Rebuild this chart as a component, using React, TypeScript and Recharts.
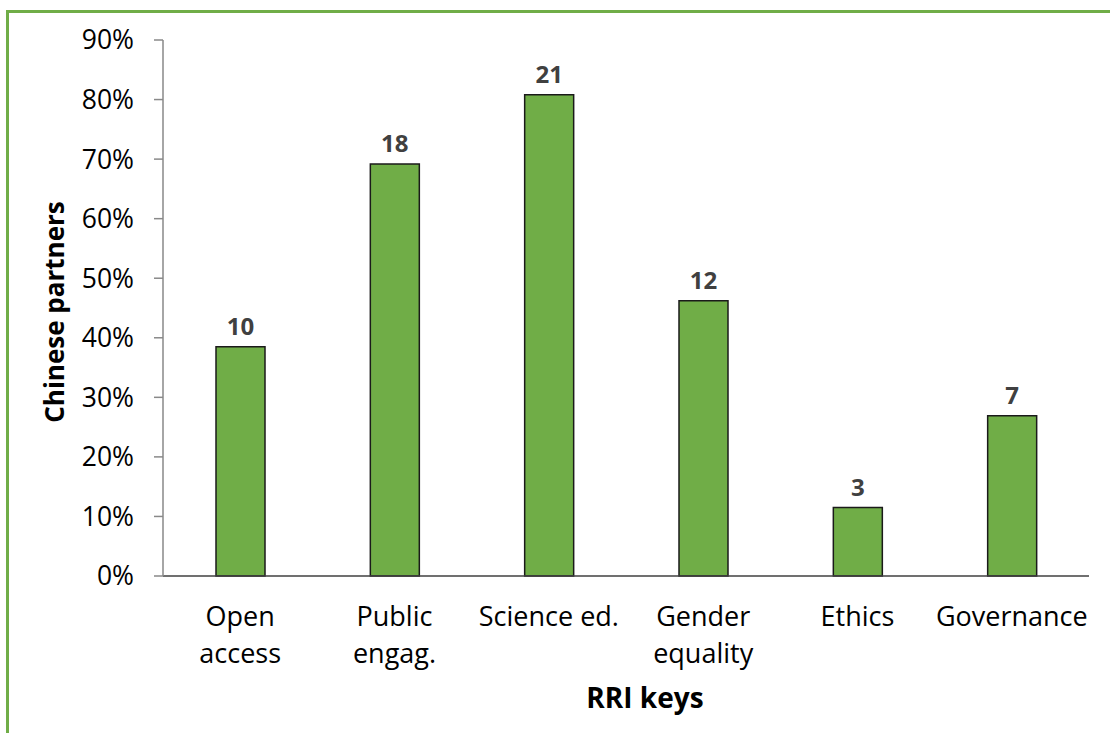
import { BarChart, Bar, XAxis, YAxis, LabelList } from "recharts";

const categories = ["Open\naccess", "Public\nengag.", "Science ed.", "Gender\nequality", "Ethics", "Governance"];
const sharePct = [38.5, 69.2, 80.8, 46.2, 11.5, 26.9];
const partnerCounts = [10, 18, 21, 12, 3, 7];
const yTicks = [0, 10, 20, 30, 40, 50, 60, 70, 80, 90];

const data = categories.map((name, i) => ({
  name,
  share: sharePct[i],
  count: partnerCounts[i],
}));

const FONT = "'Open Sans', sans-serif";

function CategoryTick(props: any) {
  const { x, y, payload } = props;
  const lines = String(payload.value).split("\n");
  return (
    <text x={x} y={y + 42} textAnchor="middle" fontFamily={FONT} fontSize={27} fill="#000">
      {lines.map((line, i) => (
        <tspan key={i} x={x} dy={i === 0 ? 0 : 37}>
          {line}
        </tspan>
      ))}
    </text>
  );
}

function YTitle(props: any) {
  const { viewBox } = props;
  const cx = viewBox.x - 49;
  const cy = viewBox.y + viewBox.height / 2 + 4;
  return (
    <text
      x={cx}
      y={cy}
      transform={`rotate(-90 ${cx} ${cy})`}
      textAnchor="middle"
      dominantBaseline="central"
      fontFamily={FONT}
      fontWeight="bold"
      fontSize={26}
      fill="#000"
    >
      Chinese partners
    </text>
  );
}

function XTitle(props: any) {
  const { viewBox } = props;
  return (
    <text
      x={viewBox.x + viewBox.width / 2 + 19}
      y={viewBox.y + 132}
      textAnchor="middle"
      fontFamily={FONT}
      fontWeight="bold"
      fontSize={28}
      fill="#000"
    >
      RRI keys
    </text>
  );
}

export default function App() {
  return (
    <div style={{ position: "absolute", left: 0, top: 0, width: 1110, height: 733, background: "#fff" }}>
      <div
        style={{
          position: "absolute",
          left: 6,
          top: 10,
          right: -4,
          bottom: -4,
          border: "3px solid #70AD47",
        }}
      />
      <BarChart
        width={1110}
        height={733}
        data={data}
        margin={{ top: 40, right: 21, bottom: 47, left: 103 }}
        barCategoryGap="34%"
      >
        <XAxis
          dataKey="name"
          interval={0}
          height={110}
          tickLine={false}
          axisLine={{ stroke: "#404040", strokeWidth: 1.5 }}
          tick={<CategoryTick />}
          label={<XTitle />}
        />
        <YAxis
          width={60}
          domain={[0, 90]}
          ticks={yTicks}
          interval={0}
          tickSize={9}
          tickMargin={20}
          tickFormatter={(v) => `${v}%`}
          axisLine={{ stroke: "#898989", strokeWidth: 1.5 }}
          tickLine={{ stroke: "#898989", strokeWidth: 1.5 }}
          tick={{ fill: "#000", fontSize: 26.5, fontFamily: FONT }}
          label={<YTitle />}
        />
        <Bar dataKey="share" fill="#70AD47" stroke="#1a1a1a" strokeWidth={1.5} barSize={49} isAnimationActive={false}>
          <LabelList
            dataKey="count"
            position="top"
            offset={12}
            fill="#404040"
            fontFamily={FONT}
            fontWeight="bold"
            fontSize={24}
          />
        </Bar>
      </BarChart>
    </div>
  );
}
